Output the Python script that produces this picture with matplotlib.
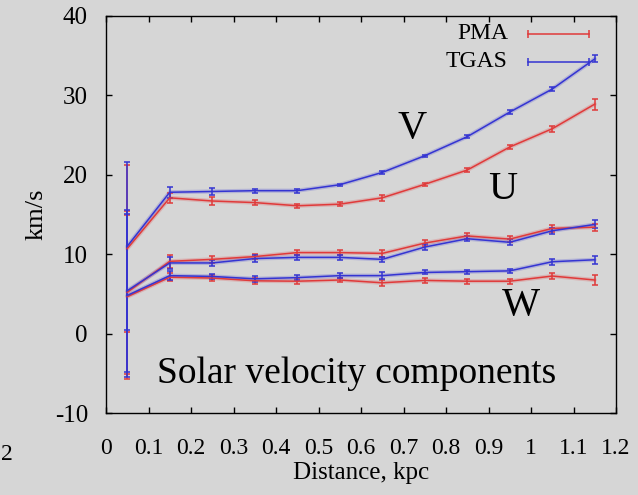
import matplotlib
matplotlib.use("Agg")
import matplotlib.pyplot as plt
import numpy as np

# Distance bins (kpc)
distance = [0.05, 0.15, 0.25, 0.35, 0.45, 0.55, 0.65, 0.75, 0.85, 0.95, 1.05, 1.15]

# Solar velocity components (km/s) and their uncertainties
V_pma = [10.7, 17.1, 16.7, 16.5, 16.1, 16.3, 17.1, 18.8, 20.6, 23.5, 25.8, 28.9]
V_pma_err = [10.5, 0.6, 0.45, 0.3, 0.25, 0.25, 0.4, 0.2, 0.3, 0.3, 0.4, 0.7]
V_tgas = [11.0, 17.8, 17.9, 18.0, 18.0, 18.75, 20.3, 22.4, 24.8, 27.9, 30.8, 34.6]
V_tgas_err = [10.6, 0.7, 0.4, 0.25, 0.25, 0.15, 0.2, 0.15, 0.2, 0.2, 0.3, 0.45]

U_pma = [5.2, 9.1, 9.35, 9.7, 10.2, 10.2, 10.1, 11.4, 12.3, 11.9, 13.25, 13.4]
U_pma_err = [10.3, 0.8, 0.4, 0.35, 0.3, 0.3, 0.4, 0.35, 0.35, 0.35, 0.4, 0.45]
U_tgas = [5.4, 8.9, 8.9, 9.45, 9.6, 9.6, 9.35, 10.9, 11.95, 11.5, 12.95, 13.75]
U_tgas_err = [10.2, 0.8, 0.4, 0.4, 0.3, 0.3, 0.35, 0.4, 0.35, 0.4, 0.4, 0.5]

W_pma = [4.65, 7.1, 7.0, 6.65, 6.6, 6.75, 6.4, 6.7, 6.6, 6.6, 7.25, 6.75]
W_pma_err = [10.35, 0.5, 0.35, 0.4, 0.35, 0.3, 0.4, 0.3, 0.3, 0.3, 0.4, 0.6]
W_tgas = [4.8, 7.3, 7.2, 6.9, 7.05, 7.3, 7.3, 7.7, 7.8, 7.9, 9.05, 9.3]
W_tgas_err = [10.3, 0.6, 0.35, 0.35, 0.3, 0.3, 0.4, 0.25, 0.25, 0.25, 0.35, 0.5]

x_ticks = [0, 0.1, 0.2, 0.3, 0.4, 0.5, 0.6, 0.7, 0.8, 0.9, 1, 1.1, 1.2]
x_tick_labels = ["0", "0.1", "0.2", "0.3", "0.4", "0.5", "0.6", "0.7", "0.8", "0.9", "1", "1.1", "1.2"]
y_ticks = [-10, 0, 10, 20, 30, 40]

RED = "#e03a3a"
BLUE = "#3434d2"
BG = "#d6d6d6"

plt.rcParams["font.family"] = ["Liberation Serif", "DejaVu Serif"]
plt.rcParams["axes.unicode_minus"] = False

fig = plt.figure(figsize=(6.38, 4.95), dpi=100, facecolor=BG)
ax = fig.add_axes([106 / 638, 1 - 413 / 495, 510 / 638, 397 / 495])
ax.set_facecolor(BG)


def draw_series(y, err, color):
    # soft halo under the line, then the line with error bars
    ax.plot(distance, y, color=color, lw=3.0, alpha=0.22, solid_capstyle="round", zorder=2)
    ax.errorbar(distance, y, yerr=err, color=color, lw=1.1, elinewidth=1.1,
                capsize=2.3, capthick=1.1, zorder=3)


for y, e in [(V_pma, V_pma_err), (U_pma, U_pma_err), (W_pma, W_pma_err)]:
    draw_series(y, e, RED)
for y, e in [(V_tgas, V_tgas_err), (U_tgas, U_tgas_err), (W_tgas, W_tgas_err)]:
    draw_series(y, e, BLUE)

ax.set_xlim(0, 1.2)
ax.set_ylim(-10, 40)
ax.set_xticks(x_ticks)
ax.set_xticklabels(x_tick_labels)
ax.set_yticks(y_ticks)
ax.tick_params(direction="in", length=4.5, width=1, top=True, right=True)
ax.tick_params(axis="x", pad=18, labelsize=17)
ax.tick_params(axis="y", pad=13, labelsize=18)
for s in ax.spines.values():
    s.set_linewidth(1.0)

ax.set_xlabel("Distance, kpc", fontsize=18, labelpad=2)
ax.set_ylabel("km/s", fontsize=19, labelpad=5)

# Component labels
ax.text(0.72, 25.8, "V", fontsize=29, ha="center", va="center")
ax.text(0.934, 18.2, "U", fontsize=29, ha="center", va="center")
ax.text(0.976, 3.6, "W", fontsize=29, ha="center", va="center")
ax.text(0.12, -6.2, "Solar velocity components", fontsize=27, ha="left", va="baseline")

# Legend, gnuplot style: right-aligned text with an error-bar sample
legend_items = [("PMA", RED, 0.955), ("TGAS", BLUE, 0.885)]
for label, color, yy in legend_items:
    ax.text(0.788, yy, label, transform=ax.transAxes, fontsize=17,
            ha="right", va="center")
    ax.plot([0.827, 0.947], [yy, yy], transform=ax.transAxes, color=color,
            lw=1.1, marker="|", markersize=6, markeredgewidth=1.1, clip_on=False)

fig.text(1 / 638, 1 - 455 / 495, "2", fontsize=17, ha="left", va="center")

fig.savefig("out.png", dpi=100, facecolor=BG)
